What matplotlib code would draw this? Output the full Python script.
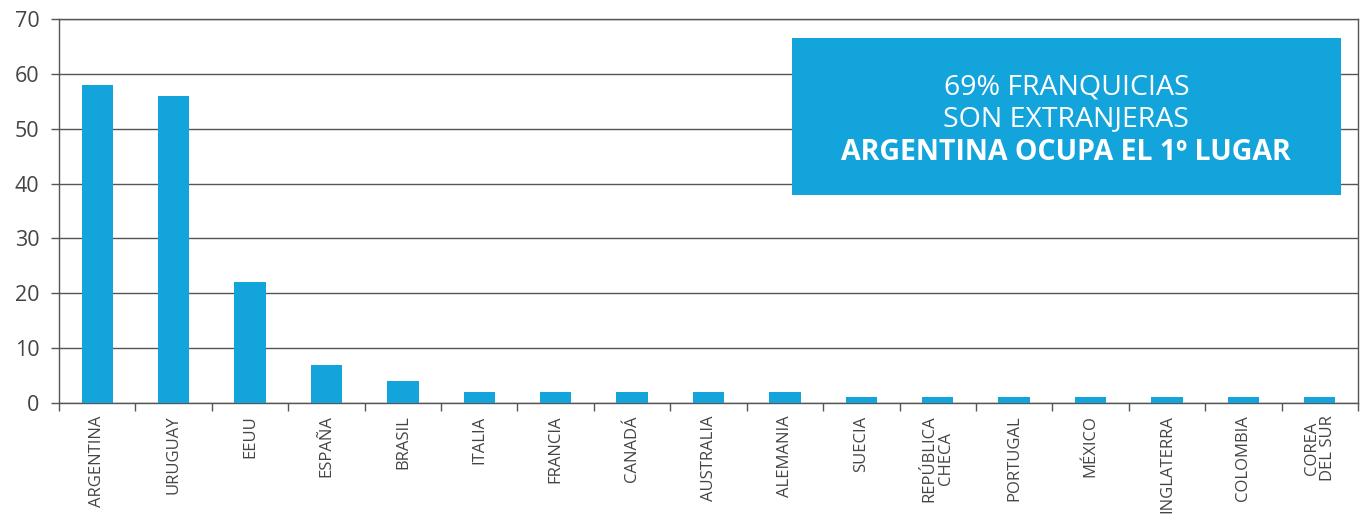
import numpy as np
import matplotlib.pyplot as plt
from matplotlib.patches import Rectangle

# franquicias por país de origen
paises = ['ARGENTINA', 'URUGUAY', 'EEUU', 'ESPAÑA', 'BRASIL', 'ITALIA', 'FRANCIA',
          'CANADÁ', 'AUSTRALIA', 'ALEMANIA', 'SUECIA', 'REPÚBLICA\nCHECA', 'PORTUGAL',
          'MÉXICO', 'INGLATERRA', 'COLOMBIA', 'COREA\nDEL SUR']
cantidad = [58, 56, 22, 7, 4, 2, 2, 2, 2, 2, 1, 1, 1, 1, 1, 1, 1]
y_ticks = [0, 10, 20, 30, 40, 50, 60, 70]

azul = '#14A4DC'
gris = '#444444'
linea = '#555555'

plt.rcParams['font.family'] = ['Open Sans', 'DejaVu Sans']

fig = plt.figure(figsize=(13.67, 5.22), dpi=100)
ax = fig.add_axes([0.0432, 0.228, 0.9502, 0.7356])

x = np.arange(len(paises))
ax.bar(x, cantidad, width=0.41, color=azul, zorder=3)

ax.set_xlim(-0.5, len(paises) - 0.5)
ax.set_ylim(0, 70)
ax.set_yticks(y_ticks)
ax.set_yticklabels([str(v) for v in y_ticks], fontsize=15.5, color=gris)
ax.grid(axis='y', color=linea, linewidth=1, zorder=0)

# etiquetas centradas, marcas entre categorías
ax.set_xticks(x)
ax.set_xticklabels(paises, rotation=90, fontsize=12, color=gris,
                   ha='center', va='top', multialignment='center', linespacing=1.0)
ax.tick_params(axis='x', which='major', length=0, pad=9)
ax.set_xticks(np.arange(len(paises) + 1) - 0.5, minor=True)
ax.tick_params(axis='x', which='minor', length=6, width=1, color=linea, direction='out')
ax.tick_params(axis='y', length=6, width=1, color=linea, pad=8)

for s in ax.spines.values():
    s.set_color(linea)
    s.set_linewidth(1)

# recuadro destacado
ax.add_patch(Rectangle((0.564, 0.5417), 0.423, 0.4088, transform=ax.transAxes,
                       facecolor=azul, edgecolor='none', zorder=4))
cx = 0.564 + 0.423 / 2
ax.text(cx, 0.822, '69% FRANQUICIAS', transform=ax.transAxes, ha='center', va='center',
        fontsize=20.5, color='white', zorder=5)
ax.text(cx, 0.739, 'SON EXTRANJERAS', transform=ax.transAxes, ha='center', va='center',
        fontsize=20.5, color='white', zorder=5)
ax.text(cx, 0.653, 'ARGENTINA OCUPA EL 1º LUGAR', transform=ax.transAxes, ha='center',
        va='center', fontsize=20.5, color='white', fontweight='bold', zorder=5)

fig.savefig('out.png', dpi=100)
